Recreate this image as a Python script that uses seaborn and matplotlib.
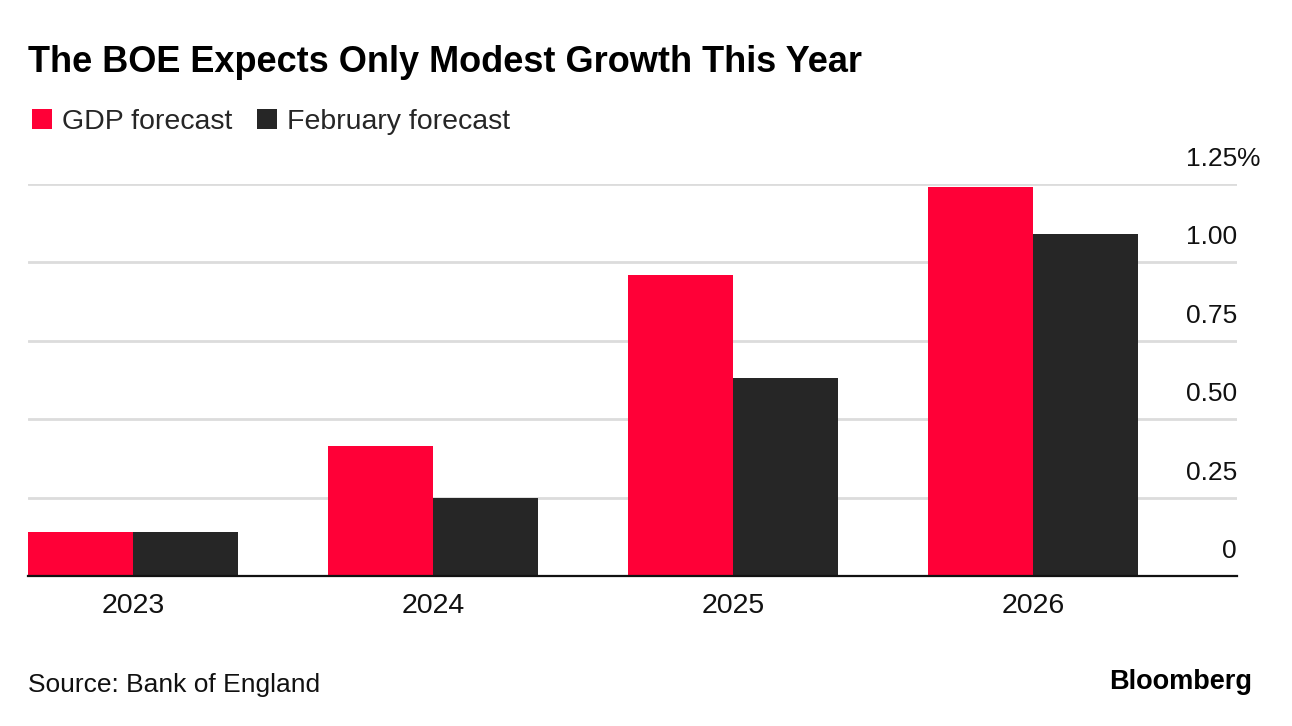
import matplotlib
matplotlib.use("Agg")
import matplotlib.pyplot as plt
import matplotlib.transforms as mtransforms
import seaborn as sns
import pandas as pd

years = ["2023", "2024", "2025", "2026"]
gdp_forecast = [0.14, 0.415, 0.96, 1.24]
feb_forecast = [0.14, 0.25, 0.63, 1.09]
series_names = ["GDP forecast", "February forecast"]
y_ticks = [0, 0.25, 0.50, 0.75, 1.00, 1.25]
y_tick_labels = ["0", "0.25", "0.50", "0.75", "1.00", "1.25"]

RED = "#FF0037"
BLACK = "#262626"

df = pd.DataFrame({
    "year": years * 2,
    "value": gdp_forecast + feb_forecast,
    "series": [series_names[0]] * 4 + [series_names[1]] * 4,
})

sns.set_theme(style="white")
plt.rcParams["font.family"] = ["Liberation Sans", "DejaVu Sans"]

W, H = 1292, 726
fig = plt.figure(figsize=(W / 100, H / 100), dpi=100)
ax = fig.add_axes([28 / W, (H - 576) / H, (1237 - 28) / W, (576 - 184) / H])

sns.barplot(data=df, x="year", y="value", hue="series", palette=[RED, BLACK],
            width=0.7, saturation=1, linewidth=0, ax=ax, legend=True)

ax.set_xlim(-0.35, 3.68)
ax.set_ylim(0, 1.25)
for s in ["top", "right", "left"]:
    ax.spines[s].set_visible(False)
ax.spines["bottom"].set_color("#111111")
ax.spines["bottom"].set_linewidth(1.6)
ax.spines["bottom"].set_zorder(5)

# gridlines
ax.set_yticks(y_ticks)
ax.set_yticklabels([])
ax.tick_params(axis="y", length=0)
ax.yaxis.grid(True, color="#dcdcdc", linewidth=2)
ax.set_axisbelow(True)

# y tick labels above gridlines, right side
trans = mtransforms.blended_transform_factory(ax.transAxes, ax.transData)
off = mtransforms.offset_copy(trans, fig=fig, x=0, y=18, units="dots")
for v, lab in zip(y_ticks, y_tick_labels):
    ax.text(1.0, v, lab, transform=off, ha="right", va="baseline",
            fontsize=19, color="#111111")
ax.text(1.0, y_ticks[-1], "%", transform=off, ha="left", va="baseline",
        fontsize=19, color="#111111")

ax.set_xlabel("")
ax.set_ylabel("")
ax.tick_params(axis="x", length=0, pad=12, labelsize=20.5, labelcolor="#111111")

handles, labels = ax.get_legend_handles_labels()
ax.get_legend().remove()
fig.legend(handles, labels, loc="center left", bbox_to_anchor=(32 / W, 1 - 122 / H),
           ncol=2, frameon=False, fontsize=20.5, handlelength=0.7, handleheight=0.7,
           handletextpad=0.35, columnspacing=0.88, borderpad=0, borderaxespad=0)

fig.text(28 / W, 1 - 62 / H, "The BOE Expects Only Modest Growth This Year",
         ha="left", va="center", fontsize=26, fontweight="bold", color="#000000")
fig.text(28 / W, 1 - 685 / H, "Source: Bank of England", ha="left", va="center",
         fontsize=19, color="#111111")
fig.text(1252 / W, 1 - 682 / H, "Bloomberg", ha="right", va="center",
         fontsize=19.5, fontweight="bold", color="#000000")

fig.savefig("out.png", dpi=100)
